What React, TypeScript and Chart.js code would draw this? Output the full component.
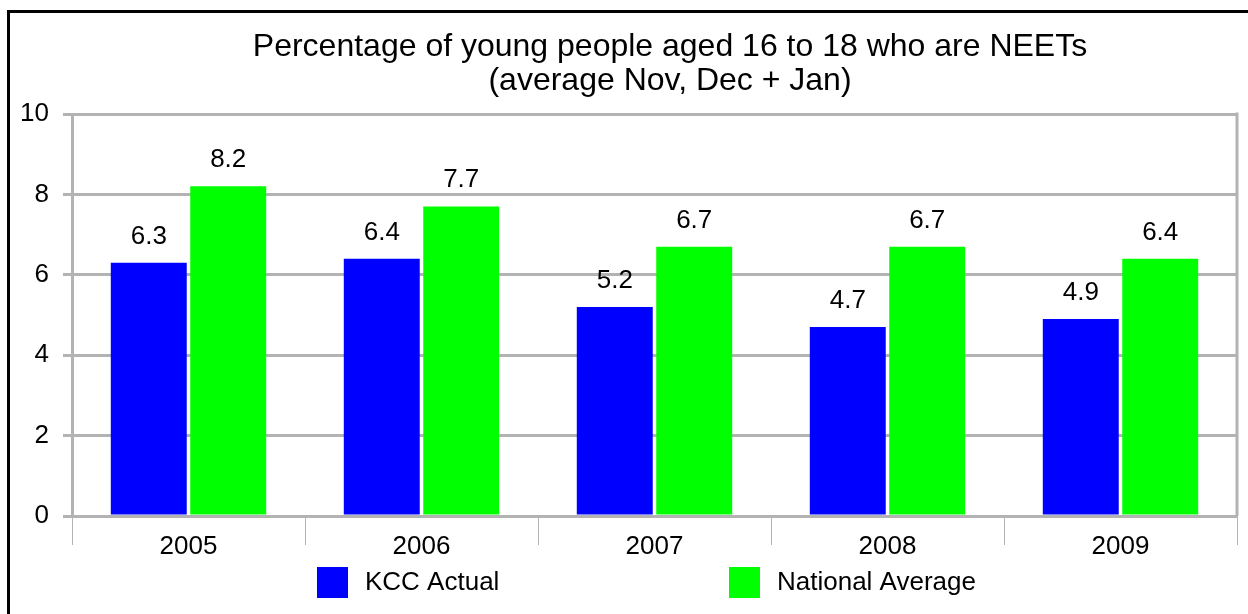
import React, { useEffect, useRef } from 'react';
import { Chart, registerables } from 'chart.js';

Chart.register(...registerables);

const categories = ['2005', '2006', '2007', '2008', '2009'];
const kccActual = [6.3, 6.4, 5.2, 4.7, 4.9];
const nationalAverage = [8.2, 7.7, 6.7, 6.7, 6.4];
const yTickValues = [0, 2, 4, 6, 8, 10];
const titleLines = [
  'Percentage of young people aged 16 to 18 who are NEETs',
  '(average Nov, Dec + Jan)',
];
const seriesNames = ['KCC Actual', 'National Average'];
const seriesColors = ['#0000ff', '#00ff00'];

const FONT = "'Liberation Sans', Arial, sans-serif";
const GRID = '#b3b3b3';

const decor = {
  id: 'decor',
  afterDraw(chart: any) {
    const ctx = chart.ctx as CanvasRenderingContext2D;
    const a = chart.chartArea;
    ctx.save();
    // right border of plot area
    ctx.fillStyle = GRID;
    ctx.fillRect(a.right - 1.5, a.top - 1.5, 3, a.bottom - a.top + 1.5);

    // data labels
    ctx.fillStyle = '#000';
    ctx.textAlign = 'center';
    ctx.textBaseline = 'alphabetic';
    ctx.font = `26px ${FONT}`;
    chart.data.datasets.forEach((ds: any, i: number) => {
      chart.getDatasetMeta(i).data.forEach((bar: any, j: number) => {
        ctx.fillText(String(ds.data[j]), bar.x, bar.y - 19);
      });
    });

    // title
    ctx.font = `32px ${FONT}`;
    ctx.fillText(titleLines[0], 670, 56);
    ctx.fillText(titleLines[1], 670, 90);

    // legend
    const legendX = [317, 729];
    ctx.font = `26px ${FONT}`;
    ctx.textAlign = 'left';
    ctx.textBaseline = 'middle';
    seriesNames.forEach((name, i) => {
      ctx.fillStyle = seriesColors[i];
      ctx.fillRect(legendX[i], 567, 31, 31);
      ctx.fillStyle = '#000';
      ctx.fillText(name, legendX[i] + 48, 583);
    });

    // outer frame (left and top)
    ctx.fillStyle = '#000';
    ctx.fillRect(7, 10, 3, 604);
    ctx.fillRect(7, 10, 1241, 3);
    ctx.restore();
  },
};

export default function App() {
  const ref = useRef<HTMLCanvasElement>(null);
  useEffect(() => {
    if (!ref.current) return;
    const chart = new Chart(ref.current, {
      type: 'bar',
      data: {
        labels: categories,
        datasets: [
          {
            label: seriesNames[0],
            data: kccActual,
            backgroundColor: seriesColors[0],
            borderWidth: 0,
            categoryPercentage: 0.682,
            barPercentage: 0.956,
          },
          {
            label: seriesNames[1],
            data: nationalAverage,
            backgroundColor: seriesColors[1],
            borderWidth: 0,
            categoryPercentage: 0.682,
            barPercentage: 0.956,
          },
        ],
      },
      options: {
        animation: false,
        responsive: false,
        events: [],
        layout: { padding: { left: 0, right: 11, top: 114, bottom: 0 } },
        plugins: {
          legend: { display: false },
          title: { display: false },
          tooltip: { enabled: false },
        },
        scales: {
          x: {
            afterFit: (s: any) => {
              s.height = 98;
            },
            grid: {
              drawOnChartArea: false,
              drawTicks: true,
              tickLength: 29,
              color: GRID,
              lineWidth: 1,
              offset: true,
            },
            border: { display: true, color: GRID, width: 3 },
            ticks: {
              color: '#000',
              padding: -14,
              font: { size: 26, family: FONT },
            },
          },
          y: {
            min: 0,
            max: 10,
            afterFit: (s: any) => {
              s.width = 72;
            },
            afterBuildTicks: (s: any) => {
              s.ticks = yTickValues.map((v) => ({ value: v }));
            },
            grid: {
              color: GRID,
              lineWidth: 3,
              tickLength: 9,
            },
            border: { display: true, color: GRID, width: 3 },
            ticks: {
              color: '#000',
              padding: 14,
              font: { size: 26, family: FONT },
            },
          },
        },
      },
      plugins: [decor],
    });
    return () => chart.destroy();
  }, []);
  return (
    <div style={{ position: 'fixed', left: 0, top: 0, width: 1248, height: 614, background: '#fff' }}>
      <canvas ref={ref} width={1248} height={614} style={{ width: 1248, height: 614, display: 'block' }} />
    </div>
  );
}
